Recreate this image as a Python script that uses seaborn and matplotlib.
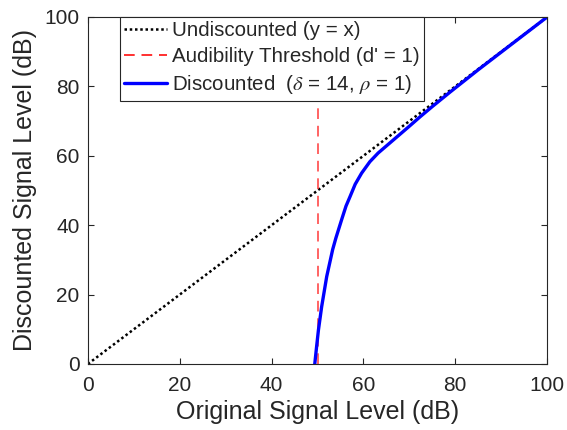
import numpy as np
import pandas as pd
import matplotlib
matplotlib.use("Agg")
import matplotlib.pyplot as plt
import seaborn as sns

# Reference line y = x
undiscounted_x = [0, 100]
undiscounted_y = [0, 100]

# Audibility threshold (dB)
threshold_db = 50
threshold_y = [0, 100]

# Discounted signal level (delta = 14, rho = 1)
disc_x = [49.4, 49.8, 50.2, 50.9, 52.0, 53.3, 54.0, 55.3, 56.2, 57.1, 58.2,
          59.6, 61.4, 63.2, 65.4, 67.6, 69.8, 72.3, 75.0, 78.9, 85.0, 92.0, 100.0]
disc_y = [0.0, 5.0, 9.8, 16.5, 25.2, 33.0, 36.3, 41.8, 45.5, 48.3, 51.8,
          55.0, 58.3, 60.8, 63.3, 65.8, 68.3, 71.2, 74.2, 78.4, 84.8, 91.9, 100.0]

sns.set_theme(style="white")
plt.rcParams["font.family"] = ["Liberation Sans", "DejaVu Sans"]
plt.rcParams["mathtext.fontset"] = "stix"

text_color = "#262626"
fig = plt.figure(figsize=(5.67, 4.30), dpi=100)
ax = fig.add_axes([0.155, 0.1535, 0.81, 0.807])

df_u = pd.DataFrame({"x": undiscounted_x, "y": undiscounted_y})
df_t = pd.DataFrame({"x": [threshold_db, threshold_db], "y": threshold_y})
df_d = pd.DataFrame({"x": disc_x, "y": disc_y})

sns.lineplot(data=df_u, x="x", y="y", ax=ax, color="black", linestyle=(0, (1, 1.1)),
             linewidth=1.8, label="Undiscounted (y = x)", sort=False, estimator=None)
sns.lineplot(data=df_t, x="x", y="y", ax=ax, color="#ff3030", linestyle=(0, (5.5, 3.5)),
             linewidth=1.4, alpha=0.75, label="Audibility Threshold (d' = 1)",
             sort=False, estimator=None)
sns.lineplot(data=df_d, x="x", y="y", ax=ax, color="#0000ff", linewidth=2.4,
             label=r"Discounted  ($\delta$ = 14, $\rho$ = 1)", sort=False, estimator=None)

ax.set_xlim(0, 100)
ax.set_ylim(0, 100)
ax.set_xticks([0, 20, 40, 60, 80, 100])
ax.set_yticks([0, 20, 40, 60, 80, 100])
ax.tick_params(direction="in", length=4, width=0.8, colors=text_color,
               labelsize=15, top=True, right=True, bottom=True, left=True,
               labelcolor=text_color)
ax.tick_params(axis="x", pad=9)
ax.tick_params(axis="y", pad=6)
for s in ax.spines.values():
    s.set_color(text_color)
    s.set_linewidth(0.8)
    s.set_visible(True)

ax.set_xlabel("Original Signal Level (dB)", fontsize=18, color=text_color, labelpad=3)
ax.set_ylabel("Discounted Signal Level (dB)", fontsize=18, color=text_color, labelpad=5)

leg = ax.legend(loc="upper left", bbox_to_anchor=(0.07, 1.0), fontsize=14.8,
                frameon=True, fancybox=False, edgecolor=text_color, framealpha=1,
                handlelength=2.1, handletextpad=0.25, borderpad=0.2,
                labelspacing=0.35, borderaxespad=0.0)
leg.get_frame().set_linewidth(0.8)
for t in leg.get_texts():
    t.set_color(text_color)
for h in leg.get_lines():
    h.set_alpha(1.0)

fig.savefig("out.png", dpi=100)
